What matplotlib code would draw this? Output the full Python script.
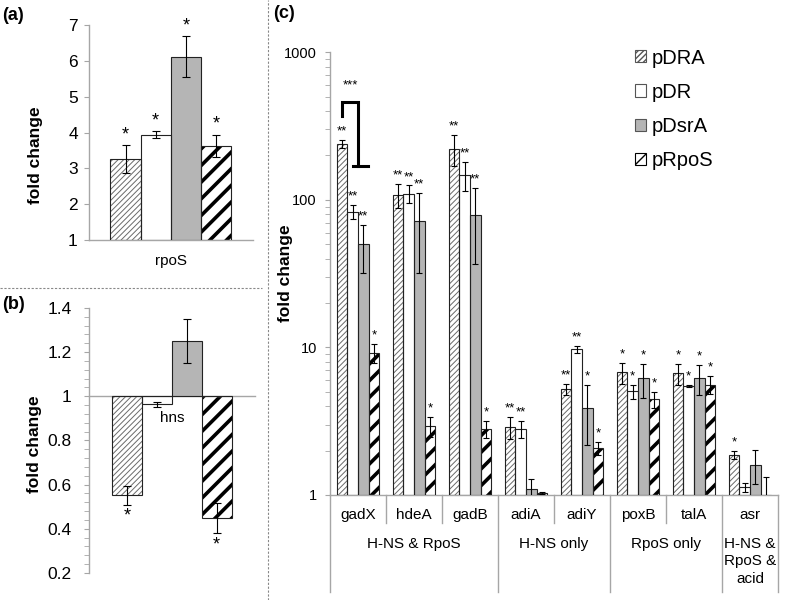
import matplotlib
matplotlib.use("Agg")
import matplotlib.pyplot as plt
from matplotlib.patches import Patch
from matplotlib.lines import Line2D
import matplotlib.transforms as mtransforms
import numpy as np

plt.rcParams['font.family'] = ['Liberation Sans', 'DejaVu Sans']

series = ['pDRA', 'pDR', 'pDsrA', 'pRpoS']

# panel (a): rpoS
a_vals = [3.26, 3.94, 6.12, 3.63]
a_errs = [0.39, 0.10, 0.58, 0.31]
a_stars = ['*', '*', '*', '*']

# panel (b): hns
b_vals = [0.552, 0.964, 1.249, 0.449]
b_errs = [0.042, 0.011, 0.10, 0.067]
b_stars = ['*', '', '', '*']

# panel (c)
genes = ['gadX', 'hdeA', 'gadB', 'adiA', 'adiY', 'poxB', 'talA', 'asr']
groups = ['H-NS & RpoS', 'H-NS only', 'RpoS only', 'H-NS &\nRpoS &\nacid']
group_spans = [(0, 2), (3, 4), (5, 6), (7, 7)]

pDRA_c = [240, 108, 221, 2.88, 5.2, 6.78, 6.67, 1.86]
pDRA_err = [16, 20, 52, 0.5, 0.45, 1.1, 1.07, 0.12]
pDR_c = [83, 110, 148, 2.79, 9.7, 5.04, 5.5, 1.13]
pDR_err = [9, 15, 33, 0.37, 0.6, 0.55, 0.1, 0.08]
pDsrA_c = [50, 72, 79, 1.1, 3.87, 6.17, 6.17, 1.6]
pDsrA_err = [18, 40, 42, 0.18, 1.7, 1.6, 1.4, 0.42]
pRpoS_c = [9.2, 2.93, 2.79, 1.03, 2.08, 4.45, 5.6, 0.98]
pRpoS_err = [1.4, 0.45, 0.37, 0.02, 0.2, 0.55, 0.8, 0.34]

pDRA_stars = ['**', '**', '**', '**', '**', '*', '*', '*']
pDR_stars = ['**', '**', '**', '**', '**', '*', '*', '']
pDsrA_stars = ['**', '**', '**', '', '*', '*', '*', '']
pRpoS_stars = ['*', '*', '*', '', '*', '*', '*', '']

c_vals = [pDRA_c, pDR_c, pDsrA_c, pRpoS_c]
c_errs = [pDRA_err, pDR_err, pDsrA_err, pRpoS_err]
c_stars = [pDRA_stars, pDR_stars, pDsrA_stars, pRpoS_stars]

axis_col = '#a6a6a6'
edge_col = '#222222'


def style_bar(i, bars):
    for b in bars:
        if i == 0:
            b.set_facecolor('white')
            b.set_hatch('//////')
            b.set_edgecolor('#6a6a6a')
            if hasattr(b, 'set_hatch_linewidth'):
                b.set_hatch_linewidth(0.7)
        elif i == 1:
            b.set_facecolor('white')
        elif i == 2:
            b.set_facecolor('#b5b5b5')
        else:
            b.set_facecolor('white')
            b.set_hatch('//')
            b.set_edgecolor('black')
            if hasattr(b, 'set_hatch_linewidth'):
                b.set_hatch_linewidth(2.6)


def draw_bars(ax, x, vals, width, base):
    for i in range(4):
        xs = np.asarray(x, dtype=float) + (i - 1.5) * width
        v = np.asarray(vals[i], dtype=float)
        bars = ax.bar(xs, v - base, width, bottom=base, linewidth=0, zorder=2)
        style_bar(i, bars)
        # outline on top
        ax.bar(xs, v - base, width, bottom=base, fill=False,
               edgecolor=edge_col, linewidth=0.8, zorder=3)


def spines_excel(ax):
    for s in ['top', 'right']:
        ax.spines[s].set_visible(False)
    for s in ['left', 'bottom']:
        ax.spines[s].set_color(axis_col)
        ax.spines[s].set_linewidth(1.0)
    ax.tick_params(axis='y', which='both', color=axis_col, direction='out')


fig = plt.figure(figsize=(8, 6), dpi=100)

# ---------- (a)
ax_a = fig.add_axes([0.111, 0.6, 0.205, 0.358])
w_a = 0.184
draw_bars(ax_a, [0], [[v] for v in a_vals], w_a, 1.0)
for i in range(4):
    xi = (i - 1.5) * w_a
    ax_a.errorbar(xi, a_vals[i], yerr=a_errs[i], fmt='none', ecolor='black',
                  elinewidth=0.8, capsize=3, capthick=0.8, zorder=4)
    ax_a.text(xi, a_vals[i] + a_errs[i] + 0.05, a_stars[i], ha='center',
              va='bottom', fontsize=13)
ax_a.set_xlim(-0.5, 0.5)
ax_a.set_ylim(1, 7)
ax_a.set_yticks(range(1, 8))
ax_a.set_xticks([0])
ax_a.set_xticklabels(['rpoS'], fontsize=11)
ax_a.tick_params(axis='x', length=0, pad=10)
ax_a.tick_params(axis='y', labelsize=12.5, length=3.6, pad=4.3)
spines_excel(ax_a)
ax_a.set_ylabel('fold change', fontsize=12.5, fontweight='bold')
ax_a.yaxis.set_label_coords(-0.28, 0.395)

# ---------- (b)
ax_b = fig.add_axes([0.111, 0.045, 0.2075, 0.4417])
w_b = 0.18
draw_bars(ax_b, [0], [[v] for v in b_vals], w_b, 1.0)
for i in range(4):
    xi = (i - 1.5) * w_b
    ax_b.errorbar(xi, b_vals[i], yerr=b_errs[i], fmt='none', ecolor='black',
                  elinewidth=0.8, capsize=3, capthick=0.8, zorder=4)
    if b_stars[i]:
        ax_b.text(xi, b_vals[i] - b_errs[i] - 0.015, b_stars[i], ha='center',
                  va='top', fontsize=13)
ax_b.set_xlim(-0.5, 0.5)
ax_b.set_ylim(0.2, 1.4)
ax_b.set_yticks(np.arange(0.2, 1.41, 0.2))
ax_b.set_yticklabels(['0.2', '0.4', '0.6', '0.8', '1', '1.2', '1.4'])
ax_b.set_yticks(np.arange(0.2, 1.41, 0.04), minor=True)
ax_b.tick_params(axis='y', labelsize=12.5, length=3.6, pad=8.6)
ax_b.tick_params(axis='y', which='minor', length=3.6)
ax_b.set_xticks([])
spines_excel(ax_b)
ax_b.spines['bottom'].set_position(('data', 1.0))
ax_b.text(0, 0.935, 'hns', ha='center', va='top', fontsize=11)
ax_b.set_ylabel('fold change', fontsize=12.5, fontweight='bold')
ax_b.yaxis.set_label_coords(-0.283, 0.487)

# ---------- (c)
ax_c = fig.add_axes([0.4125, 0.175, 0.56, 0.738])
ax_c.set_yscale('log')
w_c = 0.19
xg = np.arange(len(genes))
draw_bars(ax_c, xg, c_vals, w_c, 1.0)
for i in range(4):
    xs = xg + (i - 1.5) * w_c
    ax_c.errorbar(xs, c_vals[i], yerr=c_errs[i], fmt='none', ecolor='black',
                  elinewidth=0.8, capsize=2.5, capthick=0.8, zorder=4)
    for j, s in enumerate(c_stars[i]):
        if s:
            ax_c.text(xs[j], (c_vals[i][j] + c_errs[i][j]) * 1.04, s,
                      ha='center', va='bottom', fontsize=9.5)
ax_c.set_xlim(-0.5, len(genes) - 0.5)
ax_c.set_ylim(1, 1000)
ax_c.set_yticks([1, 10, 100, 1000])
ax_c.set_yticklabels(['1', '10', '100', '1000'])
ax_c.tick_params(axis='y', labelsize=10.5, length=3.6, pad=5.8)
ax_c.tick_params(axis='y', which='minor', length=3.6, color=axis_col)
ax_c.set_xticks([])
spines_excel(ax_c)
ax_c.set_ylabel('fold change', fontsize=12.5, fontweight='bold')
ax_c.yaxis.set_label_coords(-0.083, 0.5)

# significance bracket between pDRA and pDR/pDsrA for gadX
bx0 = -1.5 * w_c
bx1 = 0.0
ax_c.plot([bx0, bx0, bx1, bx1], [370, 460, 460, 170], color='black',
          linewidth=2.2, solid_joinstyle='miter', zorder=5)
ax_c.plot([bx1 - 0.5 * w_c, bx1 + 0.9 * w_c], [170, 170], color='black',
          linewidth=2.2, zorder=5)
ax_c.text((bx0 + bx1) / 2, 540, '***', ha='center', va='bottom', fontsize=9.5)

# category labels below axis
trans = mtransforms.blended_transform_factory(ax_c.transData, ax_c.transAxes)
for j, g in enumerate(genes):
    ax_c.text(j, -0.045, g, transform=trans, ha='center', va='center',
              fontsize=11, clip_on=False)
short_lines = [0.5, 1.5, 3.5, 5.5]
long_lines = [-0.5, 2.5, 4.5, 6.5, 7.5]
for xl in short_lines:
    ax_c.add_line(Line2D([xl, xl], [0, -0.063], transform=trans,
                         color=axis_col, linewidth=1.0, clip_on=False))
for xl in long_lines:
    ax_c.add_line(Line2D([xl, xl], [0, -0.219], transform=trans,
                         color=axis_col, linewidth=1.0, clip_on=False))
for (g0, g1), name in zip(group_spans, groups):
    ax_c.text((g0 + g1) / 2, -0.095, name, transform=trans, ha='center',
              va='top', fontsize=11, linespacing=1.3, clip_on=False)

# legend
handles = [
    Patch(facecolor='white', edgecolor='#555555', hatch='//////', linewidth=0.8),
    Patch(facecolor='white', edgecolor='#555555', linewidth=0.8),
    Patch(facecolor='#b5b5b5', edgecolor='#555555', linewidth=0.8),
    Patch(facecolor='white', edgecolor='black', hatch='//', linewidth=0.8),
]
leg = fig.legend(handles, series, loc='upper left', bbox_to_anchor=(0.784, 0.9325),
                 borderaxespad=0, frameon=False, fontsize=14.5, handlelength=0.55,
                 handleheight=0.55, handletextpad=0.25, labelspacing=0.75)

# panel letters
fig.text(0.003, 0.975, '(a)', fontsize=13, fontweight='bold', va='center')
fig.text(0.003, 0.493, '(b)', fontsize=13, fontweight='bold', va='center')
fig.text(0.342, 0.978, '(c)', fontsize=13, fontweight='bold', va='center')

# dashed separators
fig.add_artist(Line2D([0, 0.328], [0.52, 0.52], color='#888888', linewidth=0.8,
                      linestyle=(0, (2, 1.5))))
fig.add_artist(Line2D([0.335, 0.335], [0, 1], color='#888888', linewidth=0.8,
                      linestyle=(0, (2, 1.5))))

fig.savefig('out.png', dpi=100)
